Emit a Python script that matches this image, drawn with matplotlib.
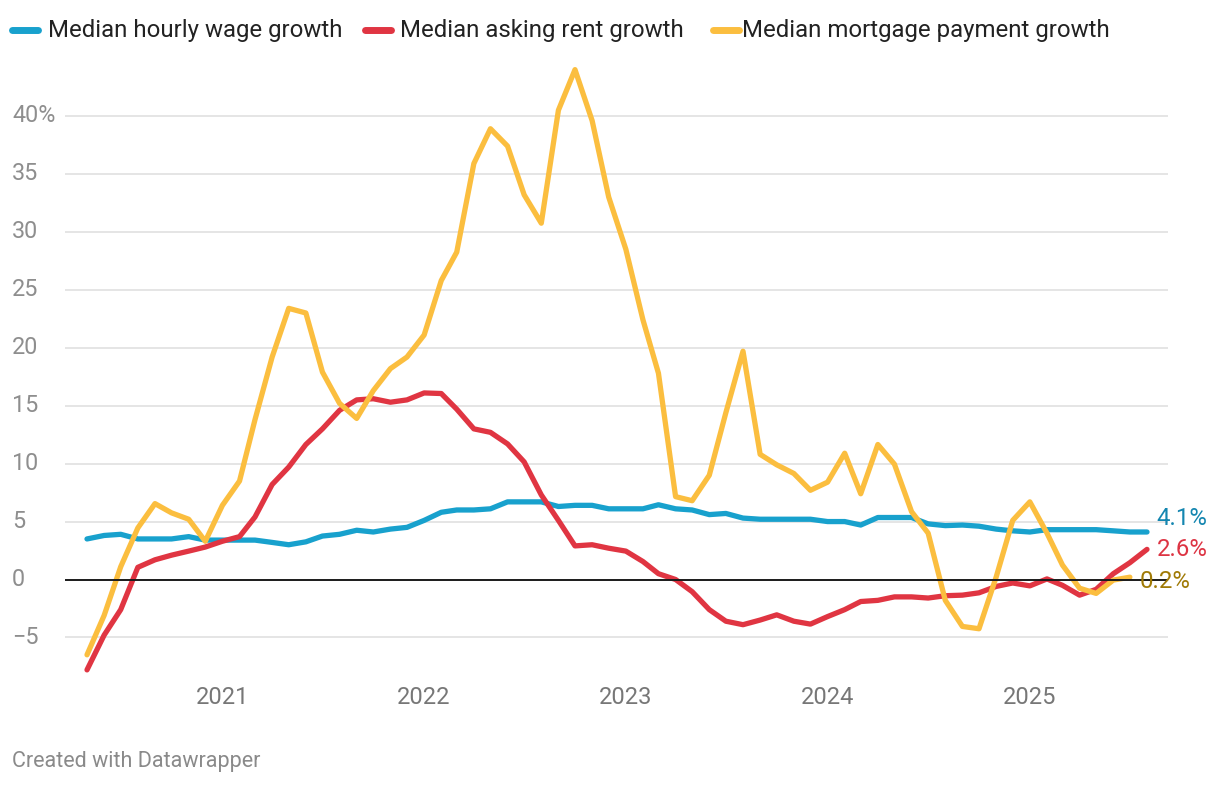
#!/usr/bin/env python3

import numpy as np
import pandas as pd
import matplotlib
matplotlib.use("Agg")
import matplotlib.pyplot as plt
import matplotlib.dates as mdates
from matplotlib.lines import Line2D
from matplotlib.transforms import blended_transform_factory

plt.rcParams['font.family'] = ['Roboto', 'DejaVu Sans']

# monthly, May 2020 .. Aug 2025
meses = pd.date_range('2020-05-01', '2025-08-01', freq='MS')

salario = [3.5, 3.8, 3.9, 3.5, 3.5, 3.5, 3.7, 3.4, 3.4, 3.4,
           3.4, 3.2, 3.0, 3.25, 3.75, 3.9, 4.25, 4.1, 4.35, 4.5,
           5.1, 5.8, 6.0, 6.0, 6.1, 6.7, 6.7, 6.7, 6.3, 6.4,
           6.4, 6.1, 6.1, 6.1, 6.45, 6.1, 6.0, 5.6, 5.7, 5.3,
           5.2, 5.2, 5.2, 5.2, 5.0, 5.0, 4.7, 5.35, 5.35, 5.35,
           4.8, 4.65, 4.7, 4.6, 4.35, 4.2, 4.1, 4.3, 4.3, 4.3,
           4.3, 4.2, 4.1, 4.1]

aluguel = [-7.8, -4.8, -2.6, 1.05, 1.7, 2.1, 2.45, 2.8, 3.3, 3.7,
           5.4, 8.2, 9.7, 11.65, 13.0, 14.6, 15.5, 15.6, 15.3, 15.5,
           16.1, 16.05, 14.7, 13.0, 12.7, 11.7, 10.15, 7.3, 5.1, 2.9,
           3.0, 2.7, 2.45, 1.55, 0.5, 0.0, -1.05, -2.6, -3.6, -3.9,
           -3.5, -3.05, -3.6, -3.85, -3.2, -2.6, -1.9, -1.8, -1.5, -1.5,
           -1.6, -1.4, -1.35, -1.15, -0.6, -0.3, -0.55, 0.05, -0.5, -1.35,
           -0.85, 0.5, 1.45, 2.6]

hipoteca = [-6.5, -3.1, 1.1, 4.45, 6.55, 5.75, 5.2, 3.3, 6.4, 8.5,
            13.8, 19.2, 23.4, 23.0, 17.9, 15.2, 13.9, 16.3, 18.2, 19.2,
            21.1, 25.8, 28.25, 35.9, 38.9, 37.4, 33.2, 30.75, 40.5, 44.0,
            39.6, 33.0, 28.5, 22.4, 17.8, 7.15, 6.8, 9.0, 14.4, 19.7,
            10.8, 9.9, 9.15, 7.7, 8.4, 10.9, 7.4, 11.65, 9.95, 5.85,
            4.0, -1.8, -4.05, -4.25, 0.2, 5.1, 6.7, 4.0, 1.25, -0.75,
            -1.2, -0.05, 0.2, np.nan]

nomes = ['Median hourly wage growth', 'Median asking rent growth',
         'Median mortgage payment growth']
cores = ['#18a1cd', '#e03542', '#fbbe3f']
cores_rotulo = ['#1486b0', '#dd3443', '#a07a06']
y_ticks = [-5, 0, 5, 10, 15, 20, 25, 30, 35, 40]
anos = [2021, 2022, 2023, 2024, 2025]

W, H = 1220, 786
fig = plt.figure(figsize=(W / 100, H / 100), dpi=100)

# area dos eixos em pixels
x0, x1 = 65, 1168
ytop, ybot = 60, 680
ax = fig.add_axes([x0 / W, (H - ybot) / H, (x1 - x0) / W, (ybot - ytop) / H])

inicio = mdates.date2num(meses[0])
fim = mdates.date2num(meses[-1])
px_dia = (1147 - 87) / (fim - inicio)
ax.set_xlim(inicio - (87 - x0) / px_dia, inicio + (x1 - 87) / px_dia)
px_un = (579.5 - 116) / 40
ax.set_ylim(-(ybot - 579.5) / px_un, (579.5 - ytop) / px_un)

for s in ax.spines.values():
    s.set_visible(False)
ax.tick_params(length=0)

for v in y_ticks:
    if v == 0:
        ax.axhline(0, color='#1a1a1a', lw=1.4, zorder=4)
    else:
        ax.axhline(v, color='#e3e3e3', lw=1.3, zorder=1)

series = [salario, aluguel, hipoteca]
for ys, c in zip(series, cores):
    ax.plot(meses, ys, color=c, lw=3.8, solid_joinstyle='round',
            solid_capstyle='round', zorder=3)

# rotulos do eixo y na borda esquerda
tr = blended_transform_factory(fig.transFigure, ax.transData)
for v in y_ticks:
    txt = '40%' if v == 40 else str(v).replace('-', '\u2212')
    ax.text(12 / W, v, txt, transform=tr, ha='left', va='center',
            fontsize=16.8, color='#8e8e8e')

ax.set_yticks([])
ax.set_xticks([pd.Timestamp(f'{a}-01-01') for a in anos])
ax.set_xticklabels([str(a) for a in anos], fontsize=17, color='#777777')
ax.tick_params(axis='x', pad=4)

# rotulos no fim das linhas
desloc = [13, 0, -4]
for ys, cr, d in zip(series, cores_rotulo, desloc):
    ult = [i for i, v in enumerate(ys) if not np.isnan(v)][-1]
    ax.annotate(f'{ys[ult]:.1f}%', (meses[ult], ys[ult]),
                xytext=(7, d * 0.72), textcoords='offset points',
                ha='left', va='center', fontsize=17.3, color=cr, zorder=5)

# legenda
leg_x = [(12, 48), (365, 400), (713, 742)]
for (mx, tx), nome, c in zip(leg_x, nomes, cores):
    fig.add_artist(Line2D([mx / W, (mx + 26) / W], [1 - 30 / H, 1 - 30 / H],
                          color=c, lw=5, solid_capstyle='round'))
    fig.text(tx / W, 1 - 30 / H, nome, ha='left', va='center',
             fontsize=17.3, color='#222222')

fig.text(12 / W, 1 - 762 / H, 'Created with Datawrapper', ha='left',
         va='center', fontsize=15.5, color='#8a8a8a')

plt.savefig('out.png', dpi=100)
